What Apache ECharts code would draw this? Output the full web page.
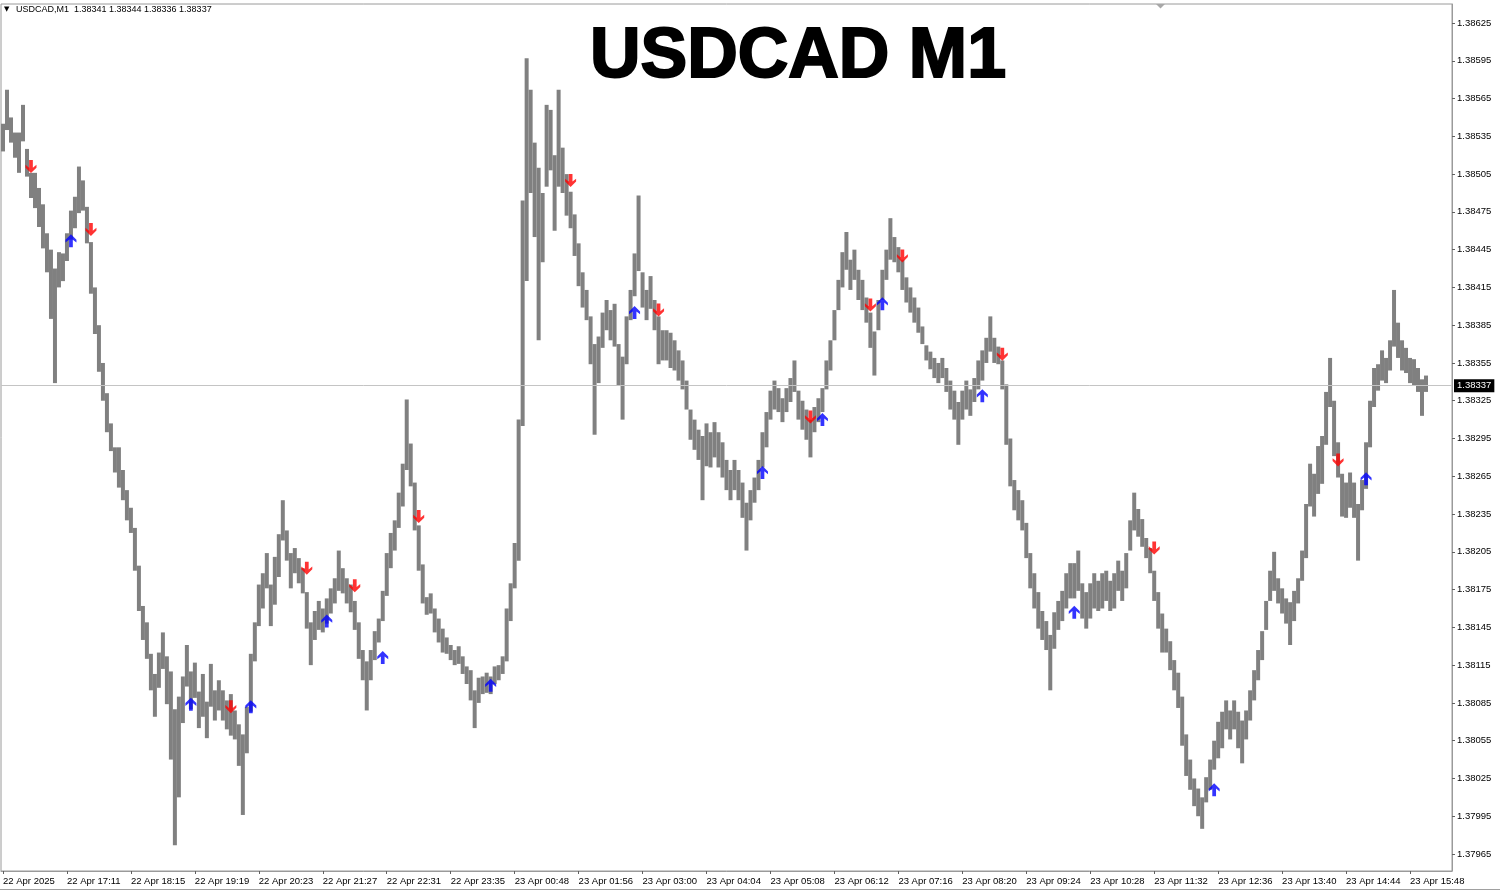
<!DOCTYPE html>
<html><head><meta charset="utf-8">
<script src="https://cdn.jsdelivr.net/npm/echarts@6/dist/echarts.min.js"></script>
<style>html,body{margin:0;padding:0;background:#fff}#c{width:1500px;height:891px}</style>
</head><body><div id="c"></div><script>
const symbolName = 'USDCAD';
const timeframe = 'M1';
const lastQuote = [1.38341, 1.38344, 1.38336, 1.38337]; // O H L C of the last bar
const timeLabels = ['22 Apr 2025','22 Apr 17:11','22 Apr 18:15','22 Apr 19:19','22 Apr 20:23','22 Apr 21:27','22 Apr 22:31','22 Apr 23:35',
  '23 Apr 00:48','23 Apr 01:56','23 Apr 03:00','23 Apr 04:04','23 Apr 05:08','23 Apr 06:12','23 Apr 07:16','23 Apr 08:20',
  '23 Apr 09:24','23 Apr 10:28','23 Apr 11:32','23 Apr 12:36','23 Apr 13:40','23 Apr 14:44','23 Apr 15:48'];
const yTicks = [1.37965,1.37995,1.38025,1.38055,1.38085,1.38115,1.38145,1.38175,1.38205,1.38235,1.38265,1.38295,
  1.38325,1.38355,1.38385,1.38415,1.38445,1.38475,1.38505,1.38535,1.38565,1.38595,1.38625];
// 4-minute bar highs / lows
const highs = [
1.38545,1.38572,1.38550,1.38538,1.38538,1.38560,1.38525,1.38506,1.38506,1.38494,1.38481,1.38458,1.38445,1.38430,1.38443,1.38442,1.38458,1.38476,1.38487,1.38511,
1.38500,1.38479,1.38451,1.38415,1.38385,1.38355,1.38331,1.38307,1.38288,1.38288,1.38270,1.38254,1.38240,1.38224,1.38194,1.38162,1.38149,1.38124,1.38108,1.38125,
1.38141,1.38122,1.38110,1.38080,1.38090,1.38106,1.38131,1.38110,1.38117,1.38094,1.38108,1.38086,1.38116,1.38095,1.38103,1.38095,1.38087,1.38092,1.38079,1.38068,
1.38060,1.38082,1.38124,1.38149,1.38179,1.38188,1.38204,1.38179,1.38201,1.38219,1.38246,1.38222,1.38204,1.38208,1.38200,1.38192,1.38173,1.38149,1.38158,1.38166,
1.38160,1.38168,1.38176,1.38184,1.38206,1.38192,1.38184,1.38179,1.38166,1.38149,1.38127,1.38118,1.38127,1.38142,1.38152,1.38174,1.38204,1.38220,1.38230,1.38252,
1.38275,1.38326,1.38291,1.38260,1.38226,1.38195,1.38169,1.38172,1.38160,1.38152,1.38144,1.38137,1.38131,1.38127,1.38130,1.38122,1.38114,1.38111,1.38095,1.38105,
1.38106,1.38109,1.38106,1.38114,1.38115,1.38122,1.38160,1.38180,1.38212,1.38310,1.38484,1.38597,1.38572,1.38530,1.38510,1.38490,1.38560,1.38556,1.38520,1.38572,
1.38526,1.38505,1.38491,1.38473,1.38450,1.38427,1.38413,1.38392,1.38370,1.38376,1.38395,1.38405,1.38397,1.38402,1.38370,1.38360,1.38392,1.38413,1.38442,1.38488,
1.38427,1.38413,1.38424,1.38405,1.38392,1.38381,1.38381,1.38379,1.38373,1.38365,1.38357,1.38341,1.38318,1.38310,1.38302,1.38297,1.38307,1.38300,1.38308,1.38300,
1.38292,1.38278,1.38270,1.38278,1.38270,1.38260,1.38244,1.38254,1.38264,1.38278,1.38300,1.38316,1.38333,1.38341,1.38335,1.38327,1.38335,1.38343,1.38357,1.38333,
1.38325,1.38318,1.38310,1.38320,1.38327,1.38335,1.38357,1.38373,1.38397,1.38421,1.38443,1.38459,1.38437,1.38445,1.38429,1.38421,1.38407,1.38395,1.38380,1.38405,
1.38429,1.38445,1.38470,1.38455,1.38447,1.38437,1.38423,1.38415,1.38407,1.38399,1.38384,1.38369,1.38364,1.38359,1.38355,1.38359,1.38351,1.38341,1.38333,1.38324,
1.38333,1.38341,1.38334,1.38343,1.38357,1.38365,1.38375,1.38392,1.38375,1.38368,1.38357,1.38338,1.38295,1.38262,1.38254,1.38246,1.38228,1.38204,1.38188,1.38173,
1.38158,1.38150,1.38139,1.38157,1.38166,1.38174,1.38188,1.38196,1.38196,1.38206,1.38180,1.38173,1.38180,1.38188,1.38182,1.38188,1.38190,1.38182,1.38188,1.38198,
1.38190,1.38204,1.38230,1.38252,1.38239,1.38231,1.38216,1.38208,1.38190,1.38173,1.38156,1.38144,1.38134,1.38119,1.38109,1.38090,1.38060,1.38040,1.38025,1.38017,
1.38010,1.38026,1.38040,1.38055,1.38070,1.38078,1.38087,1.38079,1.38087,1.38078,1.38071,1.38079,1.38095,1.38111,1.38127,1.38142,1.38166,1.38190,1.38205,1.38184,
1.38176,1.38168,1.38165,1.38174,1.38184,1.38206,1.38243,1.38275,1.38267,1.38289,1.38297,1.38332,1.38359,1.38325,1.38292,1.38267,1.38260,1.38268,1.38260,1.38243,
1.38262,1.38292,1.38325,1.38351,1.38354,1.38365,1.38359,1.38373,1.38413,1.38387,1.38373,1.38367,1.38359,1.38358,1.38351,1.38342,1.38345];
const lows = [
1.38523,1.38540,1.38530,1.38518,1.38506,1.38531,1.38503,1.38486,1.38478,1.38463,1.38446,1.38427,1.38390,1.38339,1.38415,1.38420,1.38436,1.38453,1.38462,1.38474,
1.38476,1.38450,1.38410,1.38378,1.38348,1.38325,1.38300,1.38285,1.38268,1.38256,1.38246,1.38230,1.38220,1.38190,1.38158,1.38135,1.38120,1.38095,1.38074,1.38097,
1.38112,1.38084,1.38040,1.37972,1.38010,1.38069,1.38098,1.38080,1.38089,1.38065,1.38074,1.38057,1.38082,1.38071,1.38079,1.38071,1.38064,1.38059,1.38056,1.38035,
1.37996,1.38045,1.38078,1.38118,1.38146,1.38160,1.38176,1.38146,1.38163,1.38185,1.38214,1.38198,1.38176,1.38188,1.38180,1.38172,1.38144,1.38115,1.38135,1.38143,
1.38141,1.38148,1.38156,1.38164,1.38174,1.38172,1.38164,1.38157,1.38143,1.38120,1.38103,1.38079,1.38103,1.38119,1.38133,1.38150,1.38170,1.38192,1.38206,1.38224,
1.38241,1.38270,1.38257,1.38222,1.38190,1.38164,1.38155,1.38156,1.38141,1.38133,1.38125,1.38124,1.38119,1.38115,1.38116,1.38108,1.38100,1.38087,1.38065,1.38085,
1.38092,1.38093,1.38092,1.38100,1.38103,1.38108,1.38118,1.38150,1.38176,1.38198,1.38305,1.38420,1.38490,1.38455,1.38373,1.38435,1.38495,1.38508,1.38460,1.38495,
1.38490,1.38472,1.38462,1.38440,1.38416,1.38399,1.38389,1.38354,1.38298,1.38339,1.38367,1.38381,1.38373,1.38368,1.38337,1.38310,1.38354,1.38389,1.38408,1.38428,
1.38399,1.38389,1.38398,1.38381,1.38354,1.38357,1.38357,1.38351,1.38349,1.38341,1.38334,1.38318,1.38294,1.38286,1.38278,1.38246,1.38273,1.38272,1.38280,1.38272,
1.38264,1.38254,1.38246,1.38254,1.38246,1.38232,1.38206,1.38230,1.38244,1.38254,1.38272,1.38288,1.38310,1.38318,1.38316,1.38308,1.38316,1.38324,1.38332,1.38310,
1.38302,1.38294,1.38280,1.38300,1.38308,1.38316,1.38334,1.38349,1.38373,1.38397,1.38415,1.38429,1.38413,1.38421,1.38405,1.38397,1.38387,1.38367,1.38345,1.38381,
1.38405,1.38421,1.38437,1.38435,1.38427,1.38413,1.38403,1.38395,1.38387,1.38379,1.38370,1.38357,1.38350,1.38343,1.38339,1.38343,1.38332,1.38318,1.38310,1.38290,
1.38310,1.38318,1.38313,1.38324,1.38334,1.38341,1.38355,1.38364,1.38355,1.38354,1.38334,1.38290,1.38257,1.38238,1.38230,1.38222,1.38200,1.38176,1.38160,1.38144,
1.38135,1.38127,1.38095,1.38128,1.38143,1.38150,1.38160,1.38168,1.38168,1.38174,1.38152,1.38144,1.38152,1.38160,1.38158,1.38160,1.38166,1.38158,1.38160,1.38174,
1.38166,1.38176,1.38206,1.38222,1.38217,1.38209,1.38200,1.38188,1.38166,1.38144,1.38125,1.38125,1.38111,1.38095,1.38081,1.38051,1.38027,1.38016,1.38003,1.37995,
1.37985,1.38006,1.38016,1.38032,1.38041,1.38049,1.38064,1.38056,1.38064,1.38049,1.38037,1.38056,1.38071,1.38087,1.38103,1.38119,1.38143,1.38166,1.38174,1.38164,
1.38156,1.38148,1.38131,1.38150,1.38164,1.38182,1.38200,1.38241,1.38233,1.38251,1.38259,1.38290,1.38320,1.38281,1.38264,1.38233,1.38232,1.38240,1.38232,1.38198,
1.38238,1.38255,1.38288,1.38320,1.38333,1.38341,1.38339,1.38349,1.38368,1.38359,1.38349,1.38347,1.38339,1.38337,1.38332,1.38313,1.38332];
const sellIdx = [7,22,57,76,88,104,142,164,202,217,225,250,288,334];
const sellPrice = [1.38511,1.38461,1.38082,1.38192,1.38178,1.38233,1.38500,1.38397,1.38312,1.38401,1.38440,1.38362,1.38208,1.38278];
const buyIdx = [17,47,62,81,95,122,158,190,205,220,245,268,303,341];
const buyPrice = [1.38452,1.38084,1.38082,1.38150,1.38121,1.38099,1.38395,1.38268,1.38310,1.38402,1.38329,1.38157,1.38016,1.38263];

const slotCount = 363, labelStep = 16;
const categories = Array.from({length: slotCount}, (_, k) => k % labelStep === 0 ? (timeLabels[k / labelStep] || '') : '');
const FONT = '"Liberation Sans", "DejaVu Sans", sans-serif';
const upPath = 'path://M5,0 L10,5 L10,7.6 L6.7,4.9 L6.7,12 L3.3,12 L3.3,4.9 L0,7.6 L0,5 Z';
const downPath = 'path://M5,12 L10,7 L10,4.4 L6.7,7.1 L6.7,0 L3.3,0 L3.3,7.1 L0,4.4 L0,7 Z';

const chart = echarts.init(document.getElementById('c'), null, {renderer: 'canvas'});
chart.setOption({
  animation: false,
  backgroundColor: '#ffffff',
  grid: {left: 1, right: 48, top: 4, bottom: 20, show: true, borderColor: '#9a9a9a', borderWidth: 1, backgroundColor: '#fff'},
  xAxis: {
    type: 'category', data: categories, boundaryGap: true,
    axisLine: {show: true, lineStyle: {color: '#9a9a9a'}},
    axisTick: {show: true, interval: labelStep - 1, alignWithLabel: true, length: 3, lineStyle: {color: '#606060'}},
    axisLabel: {interval: labelStep - 1, align: 'left', margin: 5, fontSize: 9.5, color: '#000', fontFamily: FONT},
    splitLine: {show: false}
  },
  yAxis: {
    type: 'value', position: 'right', min: 1.379515, max: 1.386401, scale: true,
    axisLine: {show: true, lineStyle: {color: '#9a9a9a'}},
    axisTick: {show: true, length: 3, customValues: yTicks, lineStyle: {color: '#606060'}},
    axisLabel: {customValues: yTicks, margin: 5, fontSize: 9.5, color: '#000', fontFamily: FONT, formatter: v => v.toFixed(5)},
    splitLine: {show: false}
  },
  graphic: [
    {type: 'text', left: 4, top: 6, style: {text: '\u25BC', font: '7px "DejaVu Sans"', fill: '#000'}},
    {type: 'text', left: 16, top: 5, style: {text: symbolName + ',' + timeframe + '  ' + lastQuote.map(v => v.toFixed(5)).join(' '), font: '9px ' + FONT, fill: '#000'}},
    {type: 'text', x: 798, y: 58, style: {text: symbolName + ' ' + timeframe, font: 'bold 70px "Liberation Sans", Arial, sans-serif', fill: '#000', stroke: '#000', lineWidth: 2, align: 'center', verticalAlign: 'middle'}},
    {type: 'polygon', shape: {points: [[1156, 4], [1165, 4], [1160.5, 8.5]]}, style: {fill: '#a8a8a8'}},
    {type: 'line', shape: {x1: 0, y1: 889.5, x2: 1500, y2: 889.5}, style: {stroke: '#a0a0a0', lineWidth: 1}}
  ],
  series: [
    {
      type: 'scatter', z: 1, silent: true, symbolSize: 0,
      data: [[highs.length - 1, lastQuote[3]]],
      markLine: {
        silent: true, symbol: 'none', animation: false, precision: 5,
        data: [{yAxis: lastQuote[3]}],
        lineStyle: {color: '#c4c4c4', width: 1, type: 'solid'},
        label: {show: true, position: 'end', distance: 2, formatter: () => lastQuote[3].toFixed(5),
          backgroundColor: '#000', color: '#fff', padding: [2, 3, 1, 3], fontSize: 9.5, fontFamily: FONT}
      }
    },
    {
      type: 'custom', z: 3, silent: true,
      data: highs.map((h, k) => [k, h, lows[k]]),
      encode: {x: 0, y: [1, 2]},
      renderItem: (params, api) => {
        const k = api.value(0);
        const t = api.coord([k, api.value(1)]);
        const b = api.coord([k, api.value(2)]);
        const w = api.size([1, 0])[0];
        return {type: 'rect', shape: {x: t[0] - w / 2, y: t[1], width: w, height: Math.max(1, b[1] - t[1])}, style: {fill: '#808080'}};
      }
    },
    {
      type: 'scatter', z: 5, silent: true, symbol: downPath, symbolSize: [11, 13],
      itemStyle: {color: '#ff0000'},
      data: sellIdx.map((k, i) => [k, sellPrice[i]])
    },
    {
      type: 'scatter', z: 5, silent: true, symbol: upPath, symbolSize: [11, 13],
      itemStyle: {color: '#0000ff'},
      data: buyIdx.map((k, i) => [k, buyPrice[i]])
    }
  ]
});
</script></body></html>
